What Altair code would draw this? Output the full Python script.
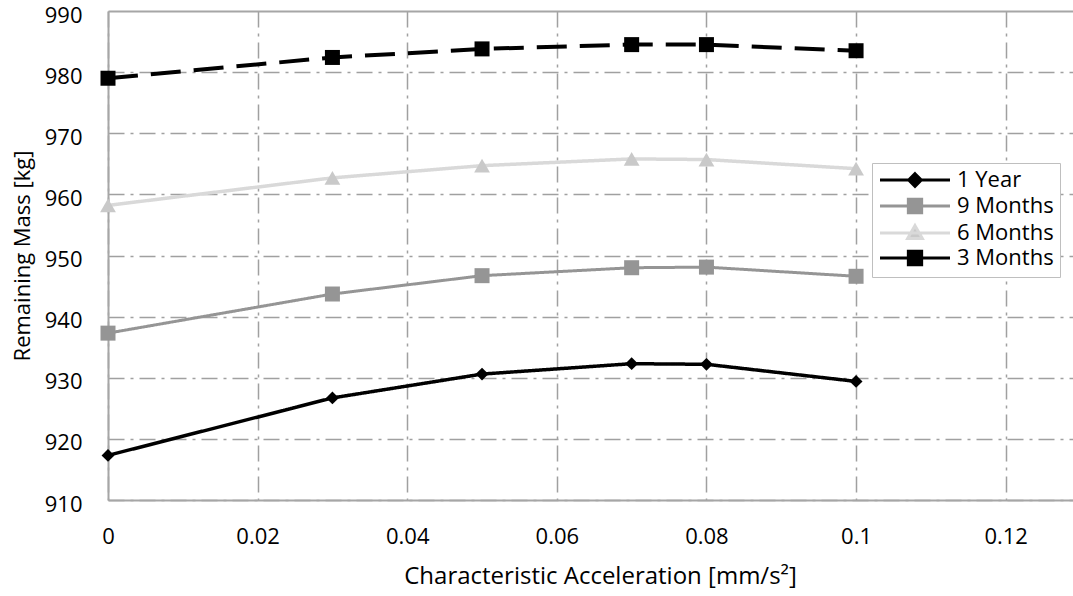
import altair as alt
import pandas as pd

accel = [0, 0.03, 0.05, 0.07, 0.08, 0.1]
series_names = ["1 Year", "9 Months", "6 Months", "3 Months"]
one_year = [917.3, 926.7, 930.6, 932.3, 932.2, 929.4]
nine_months = [937.3, 943.7, 946.7, 948.0, 948.1, 946.6]
six_months = [958.2, 962.7, 964.7, 965.8, 965.7, 964.2]
three_months = [979.0, 982.4, 983.8, 984.5, 984.5, 983.5]

x_ticks = [0, 0.02, 0.04, 0.06, 0.08, 0.1, 0.12]
y_ticks = [910, 920, 930, 940, 950, 960, 970, 980, 990]

line_colors = ["#000000", "#959595", "#d9d9d9", "#000000"]
fill_colors = ["#000000", "#959595", "#c9c9c9", "#000000"]
shapes = ["diamond", "square", "triangle-up", "square"]
sizes = [165, 225, 250, 225]
dashes = [[1, 0], [1, 0], [1, 0], [30, 13]]
widths = [3.5, 3, 3.5, 4]

legend_paths = [
    "M-10,0H10M0,-1.8L1.8,0L0,1.8L-1.8,0Z",
    "M-10,0H10M-1.9,-1.9H1.9V1.9H-1.9Z",
    "M-10,0H10M0,-2.1L2.1,1.6H-2.1Z",
    "M-10,0H10M-1.9,-1.9H1.9V1.9H-1.9Z",
]

rows = []
for name, vals in zip(series_names, [one_year, nine_months, six_months, three_months]):
    for a, v in zip(accel, vals):
        rows.append({"accel": a, "mass": v, "series": name})
df = pd.DataFrame(rows)

FONT = "Open Sans"
GRID_DASH = [16, 6, 3, 6]
AX_COLOR = "#a6a6a6"

x_enc = alt.X(
    "accel:Q",
    scale=alt.Scale(domain=[0, 0.129], nice=False, zero=False),
    axis=alt.Axis(
        values=x_ticks, format="~g", title="Characteristic Acceleration [mm/s²]",
        ticks=False, labelPadding=26, labelFontSize=22, labelFont=FONT, labelColor="#000",
        titleFontSize=24, titleFont=FONT, titleFontWeight="normal", titleColor="#000",
        titleX=492, titlePadding=17,
        grid=True, gridDash=GRID_DASH, gridColor="#a0a0a0", gridWidth=1.5,
        domainColor=AX_COLOR, domainWidth=2, labelFlush=False,
    ),
)
y_enc = alt.Y(
    "mass:Q",
    scale=alt.Scale(domain=[910, 990], nice=False, zero=False),
    axis=alt.Axis(
        values=y_ticks, title="Remaining Mass [kg]",
        ticks=False, labelPadding=26, labelFontSize=22, labelFont=FONT, labelColor="#000",
        labelOffset=4,
        titleFontSize=22, titleFont=FONT, titleFontWeight="normal", titleColor="#000",
        titleX=-86, titleBaseline="middle",
        grid=True,
        gridDash={"condition": {"test": "datum.value === 990", "value": [1, 0]}, "value": GRID_DASH},
        gridColor={"condition": {"test": "datum.value === 990", "value": AX_COLOR}, "value": "#a0a0a0"},
        gridWidth={"condition": {"test": "datum.value === 990", "value": 2}, "value": 1.5},
        domainColor=AX_COLOR, domainWidth=2,
    ),
)

series_layers = []
for i, name in enumerate(series_names):
    enc_x = x_enc if i == 0 else alt.X("accel:Q")
    enc_y = y_enc if i == 0 else alt.Y("mass:Q")
    series_layers.append(
        alt.Chart(df).transform_filter(alt.datum.series == name)
        .mark_line(
            color=line_colors[i], strokeDash=dashes[i], strokeWidth=widths[i],
            strokeCap="butt", strokeJoin="round",
            point=alt.OverlayMarkDef(
                filled=True, shape=shapes[i], size=sizes[i], fill=fill_colors[i],
                color=fill_colors[i], strokeWidth=0, opacity=1,
            ),
        )
        .encode(x=enc_x, y=enc_y)
    )

NBSP = "\u00a0"
leg = alt.Legend(
    title=None, orient="none", legendX=764, legendY=152,
    symbolSize=49, symbolStrokeWidth=3, symbolOpacity=1, symbolOffset=26,
    labelFont=FONT, labelFontSize=22, labelColor="#000", labelOffset=31,
    rowPadding=0, padding=6, strokeColor="#bfbfbf", fillColor="white",
    labelExpr=f"datum.label + '{NBSP * 2}'",
)

legend_layer = alt.Chart(df).transform_filter("false").mark_point(strokeWidth=3, opacity=1).encode(
    x=alt.X("accel:Q"),
    y=alt.Y("mass:Q"),
    fill=alt.Fill("series:N", scale=alt.Scale(domain=series_names, range=fill_colors), legend=leg),
    stroke=alt.Stroke("series:N", scale=alt.Scale(domain=series_names, range=line_colors), legend=leg),
    shape=alt.Shape("series:N", scale=alt.Scale(domain=series_names, range=legend_paths), legend=leg),
)

chart = alt.layer(*series_layers, legend_layer).properties(
    width=965, height=489,
    autosize=alt.AutoSizeParams(type="none"),
    padding={"left": 108, "top": 11, "right": 0, "bottom": 96},
    background="white",
).configure_view(stroke=None)

chart.save("out.html", embed_options={"renderer": "svg", "actions": False})
